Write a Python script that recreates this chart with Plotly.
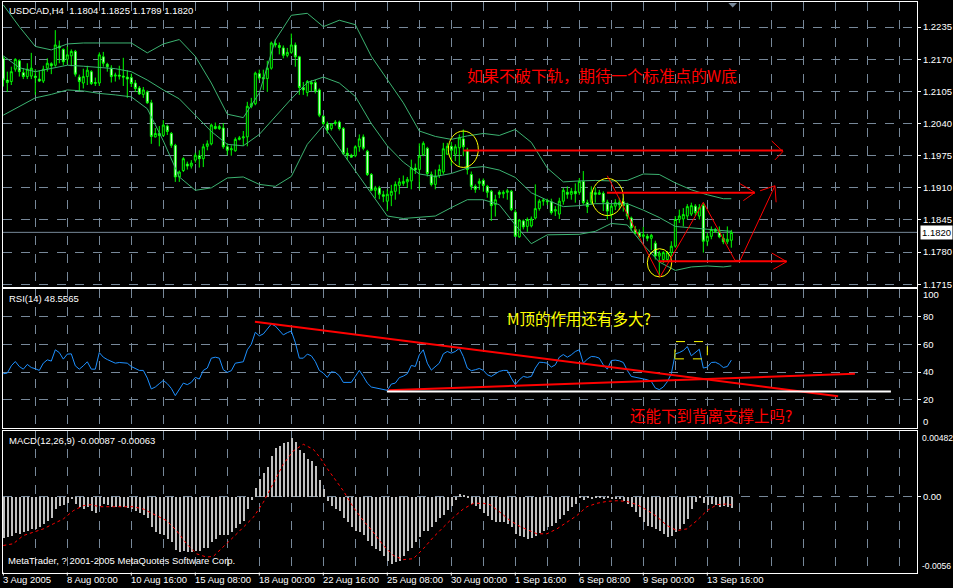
import plotly.graph_objects as go

W, H = 953, 588

# ---------------- data ----------------
bar_index = list(range(183))
opens = [1.2172,1.2128,1.2125,1.2150,1.2167,1.2143,1.2135,1.2136,1.2136,1.2130,
         1.2126,1.2152,1.2161,1.2158,1.2197,1.2190,1.2170,1.2177,1.2186,1.2134,
         1.2122,1.2135,1.2145,1.2121,1.2122,1.2175,1.2160,1.2152,1.2136,1.2138,
         1.2136,1.2134,1.2133,1.2122,1.2112,1.2099,1.2104,1.2082,1.2013,1.2020,
         1.2016,1.2035,1.2020,1.1996,1.1932,1.1945,1.1958,1.1954,1.1966,1.1975,
         1.1969,1.1994,1.1999,1.2034,1.2030,1.2031,1.1993,1.1987,1.1985,1.2008,
         1.2011,1.2013,1.2075,1.2080,1.2141,1.2133,1.2131,1.2152,1.2202,1.2198,
         1.2193,1.2178,1.2184,1.2199,1.2175,1.2113,1.2103,1.2123,1.2123,1.2108,
         1.2055,1.2039,1.2030,1.2040,1.2043,1.2030,1.1980,1.1976,1.1975,1.1993,
         1.2013,1.1984,1.1937,1.1905,1.1910,1.1896,1.1883,1.1895,1.1903,1.1915,
         1.1919,1.1922,1.1924,1.1950,1.1947,1.1977,1.1990,1.1937,1.1917,1.1935,
         1.1942,1.1978,1.1994,1.1978,1.1991,1.2009,1.1986,1.1937,1.1913,1.1919,
         1.1925,1.1913,1.1903,1.1876,1.1901,1.1898,1.1901,1.1903,1.1861,1.1811,
         1.1843,1.1832,1.1833,1.1849,1.1868,1.1883,1.1884,1.1882,1.1863,1.1857,
         1.1883,1.1901,1.1897,1.1903,1.1901,1.1923,1.1880,1.1881,1.1900,1.1897,
         1.1899,1.1881,1.1856,1.1873,1.1880,1.1882,1.1876,1.1849,1.1826,1.1819,
         1.1812,1.1812,1.1808,1.1798,1.1772,1.1765,1.1765,1.1779,1.1792,1.1846,
         1.1847,1.1853,1.1857,1.1873,1.1853,1.1874,1.1802,1.1812,1.1826,1.1821,
         1.1808,1.1801,1.1804]
highs = [1.2176,1.2145,1.2155,1.2172,1.2170,1.2152,1.2162,1.2183,1.2150,1.2148,
         1.2157,1.2172,1.2164,1.2229,1.2208,1.2192,1.2196,1.2190,1.2189,1.2139,
         1.2151,1.2157,1.2148,1.2133,1.2184,1.2185,1.2163,1.2158,1.2143,1.2157,
         1.2173,1.2148,1.2141,1.2128,1.2116,1.2114,1.2107,1.2088,1.2031,1.2035,
         1.2047,1.2038,1.2023,1.1999,1.1945,1.1972,1.1963,1.1966,1.1981,1.1986,
         1.1999,1.2006,1.2040,1.2042,1.2038,1.2041,1.2000,1.1996,1.2012,1.2015,
         1.2025,1.2084,1.2092,1.2145,1.2149,1.2149,1.2167,1.2206,1.2210,1.2204,
         1.2198,1.2193,1.2222,1.2204,1.2177,1.2124,1.2128,1.2128,1.2128,1.2111,
         1.2057,1.2044,1.2041,1.2047,1.2046,1.2033,1.1991,1.1979,1.1996,1.2018,
         1.2018,1.1987,1.1940,1.1914,1.1914,1.1904,1.1907,1.1916,1.1923,1.1930,
         1.1935,1.1932,1.1967,1.1959,1.2000,1.2004,1.1993,1.1943,1.1947,1.1957,
         1.2001,1.2001,1.2003,1.1998,1.2018,1.2028,1.1991,1.1943,1.1917,1.1929,
         1.1929,1.1916,1.1906,1.1896,1.1905,1.1905,1.1908,1.1906,1.1866,1.1847,
         1.1846,1.1850,1.1852,1.1917,1.1887,1.1889,1.1888,1.1888,1.1873,1.1890,
         1.1910,1.1913,1.1910,1.1919,1.1930,1.1944,1.1886,1.1913,1.1911,1.1906,
         1.1903,1.1886,1.1879,1.1887,1.1890,1.1889,1.1880,1.1852,1.1833,1.1826,
         1.1831,1.1817,1.1817,1.1803,1.1782,1.1782,1.1782,1.1802,1.1853,1.1866,
         1.1869,1.1877,1.1880,1.1877,1.1877,1.1879,1.1819,1.1832,1.1829,1.1832,
         1.1817,1.1832,1.1825]
lows = [1.2115,1.2104,1.2118,1.2145,1.2135,1.2130,1.2130,1.2130,1.2098,1.2124,
        1.2122,1.2145,1.2140,1.2155,1.2162,1.2158,1.2160,1.2156,1.2135,1.2105,
        1.2111,1.2118,1.2118,1.2116,1.2116,1.2155,1.2145,1.2123,1.2125,1.2129,
        1.2116,1.2092,1.2114,1.2104,1.2098,1.2092,1.2080,1.1999,1.2012,1.1994,
        1.2013,1.2017,1.1991,1.1922,1.1922,1.1942,1.1947,1.1949,1.1961,1.1951,
        1.1952,1.1986,1.1996,1.2028,1.2027,1.1989,1.1976,1.1975,1.1983,1.2006,
        1.1995,1.1994,1.2071,1.2077,1.2128,1.2108,1.2104,1.2149,1.2194,1.2180,
        1.2172,1.2174,1.2181,1.2155,1.2098,1.2098,1.2095,1.2105,1.2101,1.2053,
        1.2037,1.2020,1.2026,1.2036,1.2026,1.1976,1.1966,1.1971,1.1972,1.1983,
        1.1986,1.1934,1.1903,1.1889,1.1887,1.1881,1.1863,1.1873,1.1886,1.1897,
        1.1914,1.1910,1.1907,1.1938,1.1907,1.1974,1.1933,1.1913,1.1907,1.1930,
        1.1937,1.1977,1.1955,1.1964,1.1955,1.1974,1.1937,1.1906,1.1900,1.1906,
        1.1902,1.1890,1.1843,1.1852,1.1889,1.1889,1.1886,1.1863,1.1812,1.1809,
        1.1826,1.1821,1.1830,1.1846,1.1864,1.1874,1.1875,1.1856,1.1853,1.1847,
        1.1876,1.1888,1.1886,1.1880,1.1896,1.1876,1.1859,1.1876,1.1880,1.1896,
        1.1863,1.1846,1.1848,1.1865,1.1868,1.1862,1.1846,1.1822,1.1816,1.1809,
        1.1808,1.1802,1.1784,1.1765,1.1731,1.1758,1.1762,1.1772,1.1789,1.1839,
        1.1832,1.1846,1.1853,1.1853,1.1846,1.1779,1.1792,1.1806,1.1819,1.1808,
        1.1796,1.1796,1.1789]
closes = [1.2128,1.2123,1.2145,1.2170,1.2145,1.2135,1.2150,1.2152,1.2133,1.2126,
          1.2150,1.2162,1.2157,1.2199,1.2193,1.2165,1.2179,1.2186,1.2140,1.2125,
          1.2135,1.2148,1.2121,1.2123,1.2179,1.2162,1.2155,1.2135,1.2138,1.2136,
          1.2134,1.2130,1.2121,1.2111,1.2100,1.2108,1.2082,1.2014,1.2020,1.2016,
          1.2037,1.2024,1.1996,1.1932,1.1942,1.1969,1.1954,1.1960,1.1976,1.1969,
          1.1993,1.1999,1.2037,1.2030,1.2034,1.1993,1.1986,1.1989,1.2008,1.2011,
          1.2013,1.2075,1.2080,1.2142,1.2132,1.2130,1.2152,1.2203,1.2199,1.2194,
          1.2178,1.2184,1.2199,1.2175,1.2113,1.2108,1.2125,1.2120,1.2106,1.2057,
          1.2040,1.2027,1.2039,1.2043,1.2030,1.1979,1.1976,1.1972,1.1993,1.2009,
          1.1990,1.1937,1.1905,1.1910,1.1897,1.1893,1.1897,1.1903,1.1917,1.1922,
          1.1923,1.1927,1.1950,1.1946,1.1974,1.2000,1.1939,1.1917,1.1934,1.1947,
          1.1989,1.1994,1.1986,1.1993,1.2011,1.1993,1.1947,1.1913,1.1907,1.1923,
          1.1915,1.1901,1.1874,1.1886,1.1897,1.1901,1.1904,1.1866,1.1812,1.1845,
          1.1831,1.1846,1.1847,1.1868,1.1883,1.1885,1.1882,1.1860,1.1866,1.1883,
          1.1905,1.1897,1.1903,1.1898,1.1923,1.1880,1.1872,1.1901,1.1897,1.1900,
          1.1881,1.1863,1.1873,1.1880,1.1876,1.1874,1.1853,1.1829,1.1818,1.1811,
          1.1815,1.1808,1.1814,1.1772,1.1778,1.1779,1.1779,1.1792,1.1846,1.1853,
          1.1856,1.1872,1.1874,1.1860,1.1870,1.1802,1.1812,1.1826,1.1822,1.1811,
          1.1801,1.1806,1.1820]

bb_index = [0,4,8,12,16,20,24,28,32,36,40,44,48,52,56,60,64,68,72,76,80,84,88,92,
            96,100,104,108,112,116,120,124,128,132,136,140,144,148,152,156,160,164,
            168,172,176,180,182]
bb_upper = [1.2280,1.2236,1.2196,1.2189,1.2201,1.2203,1.2203,1.2203,1.2203,1.2183,
            1.2201,1.2210,1.2176,1.2122,1.2059,1.2052,1.2102,1.2209,1.2259,1.2263,
            1.2236,1.2249,1.2240,1.2176,1.2129,1.2082,1.2025,1.2014,1.2008,1.2015,
            1.2020,1.2016,1.2028,1.2002,1.1950,1.1922,1.1924,1.1925,1.1924,1.1925,
            1.1938,1.1937,1.1920,1.1906,1.1896,1.1888,1.1888]
bb_middle = [1.2177,1.2153,1.2145,1.2152,1.2158,1.2156,1.2154,1.2151,1.2145,1.2128,
             1.2108,1.2090,1.2057,1.2024,1.1998,1.1995,1.2018,1.2055,1.2090,1.2123,
             1.2134,1.2122,1.2095,1.2040,1.1995,1.1962,1.1938,1.1933,1.1939,1.1950,
             1.1953,1.1946,1.1931,1.1900,1.1885,1.1872,1.1874,1.1878,1.1878,1.1878,
             1.1865,1.1850,1.1832,1.1829,1.1826,1.1823,1.1822]
bb_lower = [1.2057,1.2075,1.2092,1.2099,1.2108,1.2106,1.2101,1.2098,1.2094,1.2070,
            1.2005,1.1932,1.1905,1.1910,1.1930,1.1932,1.1917,1.1913,1.1933,1.1998,
            1.2036,1.1990,1.1945,1.1900,1.1853,1.1848,1.1850,1.1853,1.1870,1.1886,
            1.1886,1.1876,1.1835,1.1797,1.1815,1.1816,1.1816,1.1822,1.1838,1.1835,
            1.1795,1.1760,1.1743,1.1750,1.1752,1.1750,1.1752]

rsi_values = [38.8,39.3,44.5,47.6,44.0,42.1,45.5,43.3,42.4,41.2,
              46.4,48.8,47.9,56.0,54.0,49.3,52.9,53.1,44.5,42.1,
              44.5,47.4,42.1,42.1,54.0,50.7,49.0,47.4,46.4,46.9,
              46.9,46.4,44.0,42.4,41.2,41.2,35.7,27.9,29.3,31.7,
              34.0,31.7,28.3,23.1,27.4,32.1,31.0,32.6,36.2,35.0,
              41.2,42.9,50.0,50.7,50.0,41.7,39.8,41.0,46.4,47.1,
              47.4,56.0,60.0,68.6,66.0,67.4,71.0,74.5,73.1,70.2,
              66.7,68.3,69.5,61.2,50.0,50.0,52.9,51.7,47.6,41.2,
              39.3,36.2,40.2,39.8,37.4,32.6,32.6,32.6,36.9,41.2,
              36.9,32.1,29.3,28.6,28.1,27.6,26.9,31.4,32.1,36.0,
              37.1,38.8,44.8,44.0,52.4,56.0,46.4,41.4,44.0,46.4,
              53.1,54.8,53.6,54.8,57.1,51.2,42.9,
              41.0,41.7,42.6,41.2,38.1,36.9,38.8,40.5,41.2,41.2,
              35.7,31.0,34.5,36.9,36.2,36.9,42.9,47.1,46.9,46.4,
              43.6,45.2,50.7,52.6,50.7,52.4,54.8,56.0,46.4,49.3,
              51.2,51.0,50.0,45.2,42.1,48.3,48.6,48.1,46.9,41.2,
              36.9,36.4,35.7,35.2,34.5,33.3,28.6,27.4,29.3,33.1,
              38.8,53.1,54.0,55.5,58.3,51.7,54.0,56.4,42.9,43.6,
              46.9,47.1,45.7,43.3,44.0,48.6]

macd_hist = [-0.00305,-0.00300,-0.00288,-0.00271,-0.00275,-0.00263,-0.00251,-0.00239,-0.00239,-0.00227,
             -0.00202,-0.00178,-0.00154,-0.00093,-0.00068,-0.00061,-0.00044,-0.00019,-0.00056,-0.00080,
             -0.00093,-0.00080,-0.00105,-0.00117,-0.00068,-0.00056,-0.00063,-0.00076,-0.00080,-0.00080,
             -0.00080,-0.00085,-0.00093,-0.00105,-0.00124,-0.00134,-0.00154,-0.00227,-0.00263,-0.00275,
             -0.00280,-0.00312,-0.00336,-0.00392,-0.00409,-0.00402,-0.00409,-0.00409,-0.00402,-0.00397,
             -0.00378,-0.00378,-0.00336,-0.00312,-0.00280,-0.00280,-0.00280,-0.00263,-0.00232,-0.00202,
             -0.00183,-0.00093,-0.00027,0.00061,0.00127,0.00175,0.00217,0.00297,0.00358,0.00370,
             0.00395,0.00402,0.00431,0.00402,0.00346,0.00322,0.00273,0.00261,0.00224,0.00119,
             0.00054,-0.00032,-0.00068,-0.00093,-0.00105,-0.00154,-0.00190,-0.00227,-0.00251,-0.00263,
             -0.00280,-0.00324,-0.00361,-0.00385,-0.00402,-0.00434,-0.00470,-0.00495,-0.00483,-0.00470,
             -0.00434,-0.00402,-0.00378,-0.00336,-0.00300,-0.00256,-0.00251,-0.00222,-0.00190,-0.00158,
             -0.00134,-0.00100,-0.00068,-0.00027,0.00017,0.00010,-0.00012,-0.00051,-0.00068,-0.00093,
             -0.00117,-0.00141,-0.00173,-0.00190,-0.00190,-0.00190,-0.00202,-0.00222,-0.00275,-0.00288,
             -0.00300,-0.00312,-0.00305,-0.00288,-0.00271,-0.00251,-0.00227,-0.00214,-0.00197,-0.00166,
             -0.00134,-0.00105,-0.00080,-0.00051,-0.00012,-0.00027,-0.00012,-0.00019,-0.00007,-0.00007,
             -0.00019,-0.00012,-0.00019,-0.00015,-0.00019,-0.00032,-0.00051,-0.00080,-0.00110,-0.00149,
             -0.00190,-0.00214,-0.00227,-0.00239,-0.00256,-0.00275,-0.00295,-0.00288,-0.00263,-0.00239,
             -0.00202,-0.00166,-0.00093,-0.00037,-0.00012,-0.00044,-0.00061,-0.00051,-0.00061,-0.00080,
             -0.00068,-0.00076,-0.00087]

signal_index = [0,2.5,5,7.5,10,12.5,15,17.5,20,22,24,27.5,32.5,35,38.3,40.8,43.3,45.8,48.3,50.8,
                52.5,55,57.5,60,62.5,65,67.5,70,72.5,75,77.5,79.2,80.8,82.5,85,87.5,90,92.5,95,97.5,
                100,102.5,105,107.5,110,112.5,115,117.5,120,121.7,124.2,126.7,129.2,131.7,133.4,
                135.9,138.4,140.9,143.4,145.9,148.4,150.9,153.4,155.9,158.4,160.9,163.4,165.9,
                168.4,170.9,173.4,175.9,178.4,180.9,182]
signal_values = [-0.00361,-0.00348,-0.00288,-0.00263,-0.00239,-0.00202,-0.00166,-0.00105,-0.00068,-0.00061,
                 -0.00076,-0.00076,-0.00076,-0.00093,-0.00141,-0.00178,-0.00251,-0.00348,-0.00422,-0.00446,
                 -0.00441,-0.00373,-0.00300,-0.00227,-0.00154,-0.00044,0.00102,0.00236,0.00334,0.00383,
                 0.00346,0.00285,0.00212,0.00139,0.00041,-0.00080,-0.00178,-0.00263,-0.00361,-0.00434,
                 -0.00465,-0.00458,-0.00385,-0.00300,-0.00227,-0.00154,-0.00093,-0.00051,-0.00051,-0.00061,
                 -0.00117,-0.00178,-0.00222,-0.00251,-0.00275,-0.00275,-0.00239,-0.00190,-0.00141,-0.00076,
                 -0.00051,-0.00037,-0.00032,-0.00037,-0.00061,-0.00100,-0.00149,-0.00214,-0.00251,-0.00239,
                 -0.00178,-0.00105,-0.00061,-0.00056,-0.00063]

date_tick_index = [0,16,32,48,64,80,96,112,128,144,160,176]
date_tick_labels = ["3 Aug 2005","8 Aug 00:00","10 Aug 16:00","15 Aug 08:00","18 Aug 00:00",
                    "22 Aug 16:00","25 Aug 08:00","30 Aug 00:00","1 Sep 16:00","6 Sep 08:00",
                    "9 Sep 00:00","13 Sep 16:00"]
grid_index = list(range(0, 232, 8))
price_ticks = [1.1715,1.1780,1.1845,1.1910,1.1975,1.2040,1.2105,1.2170,1.2235]
rsi_ticks = [20,40,60,80]
last_price = 1.1820

# ---------------- layout helpers ----------------
def px_x(p):
    return p / W

def px_y(p):
    return 1 - p / H

X_DOM = [px_x(2.5), px_x(917)]
X_RANGE = [-0.2, 228.42]
P_DOM = [px_y(288), px_y(2.5)]
R_DOM = [px_y(430), px_y(290)]
M_DOM = [px_y(575.5), px_y(433)]

GRID = "#778899"
TXT = dict(family="Liberation Sans, Arial, sans-serif", size=9.5, color="white")
CJK = "Noto Sans CJK SC"

fig = go.Figure()

fig.add_trace(go.Candlestick(
    x=bar_index, open=opens, high=highs, low=lows, close=closes,
    increasing=dict(line=dict(color="#00FF00", width=1), fillcolor="black"),
    decreasing=dict(line=dict(color="#00FF00", width=1), fillcolor="white"),
    whiskerwidth=0, hoverinfo="skip", xaxis="x", yaxis="y"))

for band in (bb_upper, bb_middle, bb_lower):
    fig.add_trace(go.Scatter(x=bb_index, y=band, mode="lines",
                             line=dict(color="#3CB371", width=1),
                             hoverinfo="skip", xaxis="x", yaxis="y"))

fig.add_trace(go.Scatter(x=bar_index, y=rsi_values, mode="lines",
                         line=dict(color="#1E90FF", width=1),
                         hoverinfo="skip", xaxis="x2", yaxis="y2"))

fig.add_trace(go.Bar(x=bar_index, y=macd_hist, width=0.3,
                     marker=dict(color="#C0C0C0", line=dict(width=0)),
                     hoverinfo="skip", xaxis="x3", yaxis="y3"))
fig.add_trace(go.Scatter(x=signal_index, y=signal_values, mode="lines",
                         line=dict(color="#FF0000", width=1, dash="dot"),
                         hoverinfo="skip", xaxis="x3", yaxis="y3"))

xcommon = dict(domain=X_DOM, range=X_RANGE, showticklabels=False,
               tickvals=grid_index, ticks="", showgrid=True, gridcolor=GRID,
               griddash="dash", gridwidth=1, zeroline=False, showline=True,
               mirror=True, linecolor="white", linewidth=1, fixedrange=True)
ycommon = dict(side="right", showgrid=True, gridcolor=GRID, griddash="dash",
               gridwidth=1, zeroline=False, showline=True, mirror=True,
               linecolor="white", linewidth=1, ticks="outside", ticklen=3,
               tickcolor="white", tickfont=TXT, fixedrange=True)

fig.update_layout(
    width=W, height=H, margin=dict(l=0, r=0, t=0, b=0),
    paper_bgcolor="black", plot_bgcolor="black", showlegend=False,
    xaxis=dict(**xcommon, anchor="y", rangeslider=dict(visible=False)),
    xaxis2=dict(**xcommon, anchor="y2"),
    xaxis3=dict(**xcommon, anchor="y3"),
    yaxis=dict(**ycommon, domain=P_DOM, range=[1.17104, 1.22849],
               tickvals=price_ticks, tickformat=".4f", anchor="x"),
    yaxis2=dict(**ycommon, domain=R_DOM, range=[0, 100], tickvals=rsi_ticks, anchor="x2"),
    yaxis3=dict(**ycommon, domain=M_DOM, range=[-0.0056, 0.00482], tickvals=[0],
                ticktext=["0.00"], anchor="x3"),
    bargap=0,
)

shapes = []
shapes.append(dict(type="line", xref="x domain", yref="y", x0=0, x1=1, y0=last_price, y1=last_price,
                   line=dict(color=GRID, width=1), layer="below"))
for t in date_tick_index:
    shapes.append(dict(type="line", xref="x3", yref="paper", x0=t, x1=t,
                       y0=px_y(575.5), y1=px_y(578.5), line=dict(color="white", width=1)))
shapes.append(dict(type="path", xref="paper", yref="paper",
                   path=f"M {px_x(728.3)},{px_y(3)} L {px_x(737)},{px_y(3)} L {px_x(732.7)},{px_y(7.5)} Z",
                   fillcolor=GRID, line=dict(color=GRID, width=0)))

RED = "#FF0000"
YEL = "#FFFF00"
for (a, b, c, d) in [(111.25, 118.75, 1.19513, 1.20249), (147.1, 155.0, 1.18539, 1.19291),
                     (161.0, 167.1, 1.17299, 1.17869)]:
    shapes.append(dict(type="circle", xref="x", yref="y", x0=a, x1=b, y0=c, y1=d,
                       line=dict(color=YEL, width=1)))
for (xs, xe, yv) in [(115.0, 194.9, 1.19855), (150.9, 187.9, 1.19001), (163.75, 195.85, 1.17617)]:
    shapes.append(dict(type="line", xref="x", yref="y", x0=xs, x1=xe, y0=yv, y1=yv,
                       line=dict(color=RED, width=2)))
arrow_heads = [[(192.1, 1.20048), (194.9, 1.19835), (192.9, 1.19665)],
               [(184.2, 1.19182), (187.9, 1.19006), (185.0, 1.18841)],
               [(192.1, 1.17782), (195.85, 1.17607), (192.5, 1.17452)],
               [(189.2, 1.19041), (192.9, 1.19142), (193.2, 1.18808)]]
zigzag = [(151.0, 1.19344), (164.2, 1.17299), (175.0, 1.18808), (182.9, 1.17633),
          (184.2, 1.17633), (192.9, 1.19142)]
for pts in arrow_heads + [zigzag]:
    for p, q in zip(pts[:-1], pts[1:]):
        shapes.append(dict(type="line", xref="x", yref="y", x0=p[0], y0=p[1], x1=q[0], y1=q[1],
                           line=dict(color=RED, width=1)))
shapes.append(dict(type="line", xref="x2", yref="y2", x0=62.9, y0=76.2, x1=208.7, y1=22.6,
                   line=dict(color=RED, width=2)))
shapes.append(dict(type="line", xref="x2", yref="y2", x0=96.25, y0=26.9, x1=212.9, y1=38.8,
                   line=dict(color=RED, width=2)))
shapes.append(dict(type="line", xref="x2", yref="y2", x0=95.9, y0=26.0, x1=221.9, y1=26.0,
                   line=dict(color="white", width=2)))
shapes.append(dict(type="rect", xref="x2", yref="y2", x0=167.9, x1=176.0, y0=49.5, y1=61.9,
                   line=dict(color=YEL, width=1, dash="dash")))
fig.update_layout(shapes=shapes)

ann = []
def label(text, x, y, font, xanchor="left", **kw):
    ann.append(dict(text=text, x=x, y=y, xref=kw.pop("xref", "paper"), yref=kw.pop("yref", "paper"),
                    xanchor=xanchor, yanchor="middle", showarrow=False, font=font, **kw))

SMALL = dict(TXT, size=8.6)
label("USDCAD,H4  1.1804 1.1825 1.1789 1.1820", px_x(6.5), px_y(10.5), TXT)
label("RSI(14) 48.5565", px_x(6.5), px_y(300), TXT)
label("MACD(12,26,9) -0.00087 -0.00063", px_x(6.5), px_y(443), TXT)
label("MetaTrader, ? 2001-2005 MetaQuotes Software Corp.", px_x(5.5), px_y(563), TXT)
label("100", px_x(920.5), px_y(296.5), TXT)
label("0", px_x(920.5), px_y(423.5), TXT)
label("0.00482", px_x(920), px_y(440), SMALL)
label("-0.0056", px_x(919.5), px_y(568.5), SMALL)
label(f"{last_price:.4f}", px_x(920), last_price, dict(TXT, color="black"), yref="y",
      bgcolor="white", borderpad=1)
for t, s in zip(date_tick_index, date_tick_labels):
    label(s, t, px_y(582), TXT, xref="x3", xshift=-2.5)

label("如果不破下轨，期待一个标准点的W底", px_x(602), px_y(75),
      dict(family=CJK, size=16, color=RED), xanchor="center")
label("M顶的作用还有多大?", px_x(579), px_y(320),
      dict(family=CJK, size=15.5, color=YEL), xanchor="center")
label("还能下到背离支撑上吗?", px_x(711), px_y(417),
      dict(family=CJK, size=15.5, color=RED), xanchor="center")
fig.update_layout(annotations=ann)

fig.write_html("out.html", config={"displayModeBar": False},
               post_script="document.body.style.margin='0';document.body.style.overflow='hidden';")
